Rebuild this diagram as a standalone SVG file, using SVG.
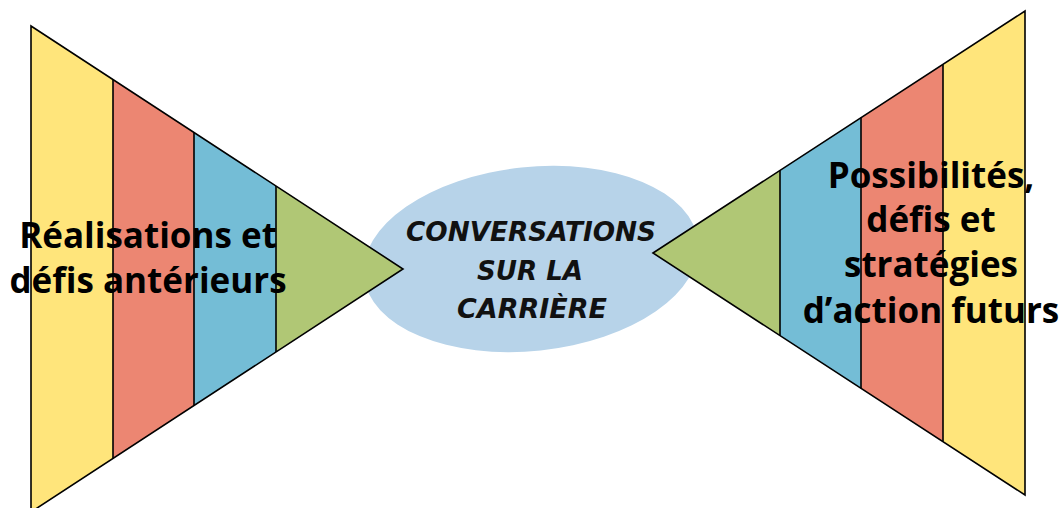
<svg xmlns="http://www.w3.org/2000/svg" width="1064" height="508" viewBox="0 0 1064 508">
<style>
.y{fill:#ffe57b}.r{fill:#ec8672}.b{fill:#74bdd6}.g{fill:#b0c775}
.ln{fill:none;stroke:#000;stroke-width:1.6;stroke-linejoin:miter}
.lbl{font-family:"Open Sans","Noto Sans",sans-serif;font-weight:700;font-size:35px;fill:#000;text-anchor:middle}
.hand{font-family:"DejaVu Sans",sans-serif;font-style:italic;font-weight:700;font-size:26px;fill:#111;text-anchor:middle}
</style>
<g id="center">
<ellipse cx="531" cy="259" rx="168" ry="92" transform="rotate(-6 531 259)" fill="#b7d3e9"/>
<text class="hand" x="531" y="241" textLength="250" lengthAdjust="spacingAndGlyphs">CONVERSATIONS</text>
<text class="hand" x="530" y="280" textLength="106" lengthAdjust="spacingAndGlyphs">SUR LA</text>
<text class="hand" x="532" y="318" textLength="150" lengthAdjust="spacingAndGlyphs">CARRIÈRE</text>
</g>
<g id="past">
<polygon class="y" points="31,26 113,79.6 113,458.4 31,512"/>
<polygon class="r" points="113,79.6 194,132.5 194,405.5 113,458.4"/>
<polygon class="b" points="194,132.5 276,186 276,352 194,405.5"/>
<polygon class="g" points="276,186 403,269 276,352"/>
<polygon class="ln" points="31,26 403,269 31,512"/>
<path class="ln" d="M113,79.6V458.4M194,132.5V405.5M276,186V352"/>
<text class="lbl" x="148" y="248">Réalisations et</text>
<text class="lbl" x="148" y="293">défis antérieurs</text>
</g>
<g id="future">
<polygon class="g" points="653,253 780,170.4 780,335.6"/>
<polygon class="b" points="780,170.4 861,117.7 861,388.3 780,335.6"/>
<polygon class="r" points="861,117.7 943,64.4 943,441.6 861,388.3"/>
<polygon class="y" points="943,64.4 1025,11 1025,495 943,441.6"/>
<polygon class="ln" points="653,253 1025,11 1025,495"/>
<path class="ln" d="M780,170.4V335.6M861,117.7V388.3M943,64.4V441.6"/>
<text class="lbl" x="931" y="188">Possibilités,</text>
<text class="lbl" x="931" y="232">défis et</text>
<text class="lbl" x="931" y="277">stratégies</text>
<text class="lbl" x="931" y="323">d’action futurs</text>
</g>
<g id="connectors"/>
</svg>
